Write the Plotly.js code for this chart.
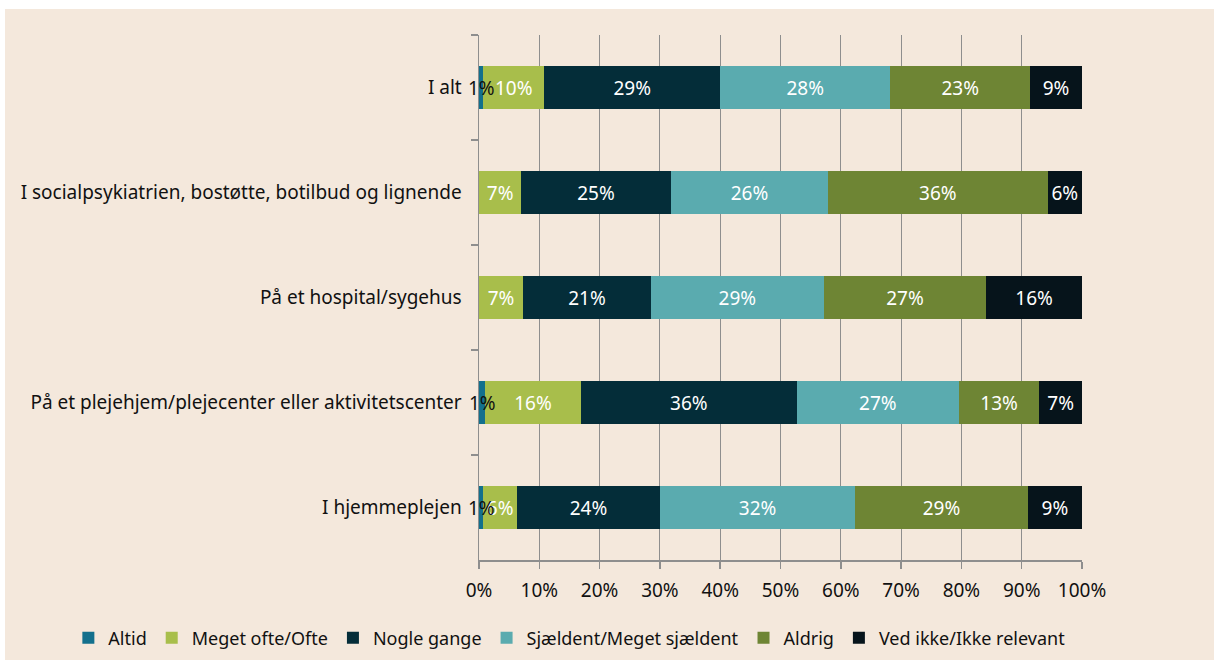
<!DOCTYPE html>
<html>
<head>
<meta charset="utf-8">
<script src="https://cdn.plot.ly/plotly-3.0.1.min.js"></script>
<style>
  html, body { margin: 0; padding: 0; background: #ffffff; width: 1214px; height: 660px; overflow: hidden; }
  #chart { position: absolute; left: 5px; top: 9px; width: 1209px; height: 680px; }
</style>
</head>
<body>
<div id="chart"></div>
<script>
const categories = [
  "I alt",
  "I socialpsykiatrien, bostøtte, botilbud og lignende",
  "På et hospital/sygehus",
  "På et plejehjem/plejecenter eller aktivitetscenter",
  "I hjemmeplejen"
];
const seriesNames = ["Altid", "Meget ofte/Ofte", "Nogle gange", "Sjældent/Meget sjældent", "Aldrig", "Ved ikke/Ikke relevant"];
const altid   = [0.7, 0, 0, 1.0, 0.7];
const meget   = [10.1, 7.0, 7.3, 15.9, 5.6];
const nogle   = [29.2, 24.8, 21.2, 35.8, 23.7];
const sjaeld  = [28.2, 26.1, 28.7, 26.9, 32.4];
const aldrig  = [23.2, 36.4, 26.9, 13.3, 28.6];
const vedikke = [8.6, 5.7, 15.9, 7.1, 9.0];
const colors = ["#13708d", "#a8be4b", "#042d39", "#5aabaf", "#6e8534", "#06141b"];
const xTicks = [0,10,20,30,40,50,60,70,80,90,100];

const FONT = "Noto Sans, Open Sans, sans-serif";
const FS = 19;
const allSeries = [altid, meget, nogle, sjaeld, aldrig, vedikke];

const traces = allSeries.map((vals, i) => ({
  type: "bar",
  orientation: "h",
  name: seriesNames[i],
  y: categories,
  x: vals,
  width: 0.41,
  marker: { color: colors[i], line: { width: 0 } },
  texttemplate: i === 0 ? "" : "%{x:.0f}%",
  textposition: i === 0 ? "none" : "inside",
  insidetextanchor: "middle",
  constraintext: "none",
  textfont: { color: "#ffffff", size: FS, family: FONT },
  hoverinfo: "x+name"
}));

const annotations = [];
altid.forEach((v, j) => {
  if (v > 0) {
    annotations.push({
      x: v / 2, y: categories[j], xref: "x", yref: "y",
      text: Math.round(v) + "%", showarrow: false,
      font: { color: "#111111", size: FS, family: FONT },
      xanchor: "center", yanchor: "middle"
    });
  }
});

const layout = {
  width: 1209, height: 680,
  paper_bgcolor: "#f4e8dc",
  plot_bgcolor: "#f4e8dc",
  barmode: "stack",
  margin: { l: 474, r: 132, t: 26, b: 129 },
  font: { family: FONT, size: FS, color: "#111111" },
  showlegend: true,
  legend: {
    orientation: "h",
    x: -0.681, xanchor: "left",
    y: -0.1486, yanchor: "middle",
    font: { size: 18, family: FONT, color: "#111111" },
    bgcolor: "rgba(0,0,0,0)",
    traceorder: "normal",
    itemwidth: 30
  },
  xaxis: {
    range: [0, 100],
    tickvals: xTicks,
    ticktext: xTicks.map(t => t + "%"),
    showgrid: true,
    gridcolor: "#8e8e8e",
    gridwidth: 1,
    zeroline: false,
    showline: true,
    linecolor: "#8e8e8e",
    linewidth: 1.5,
    ticks: "outside",
    ticklen: 7,
    tickcolor: "#8e8e8e",
    tickwidth: 1.5,
    ticklabelstandoff: 6,
    tickfont: { size: FS, family: FONT, color: "#111111" },
    fixedrange: true
  },
  yaxis: {
    categoryorder: "array",
    categoryarray: categories,
    autorange: "reversed",
    showgrid: false,
    showline: true,
    linecolor: "#8e8e8e",
    linewidth: 1.5,
    ticks: "outside",
    tickson: "boundaries",
    ticklen: 7,
    tickcolor: "#8e8e8e",
    tickwidth: 1.5,
    ticklabelstandoff: 12,
    tickfont: { size: FS, family: FONT, color: "#111111" },
    fixedrange: true
  },
  annotations: annotations
};

Plotly.newPlot("chart", traces, layout, { displayModeBar: false, staticPlot: true });
</script>
</body>
</html>
